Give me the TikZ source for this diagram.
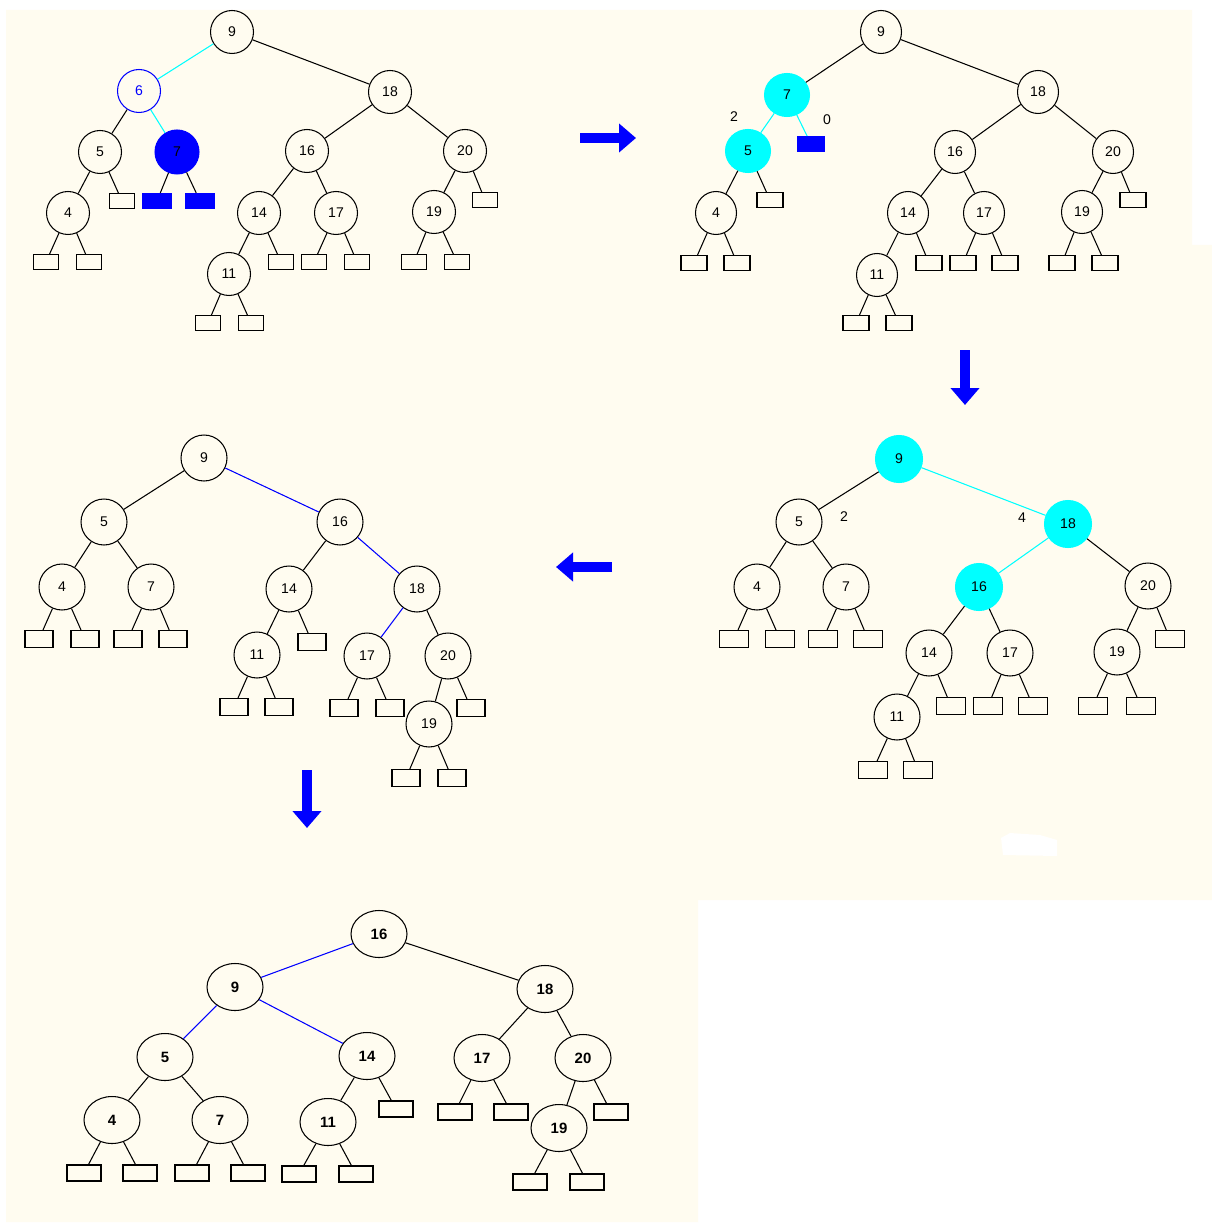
\documentclass[tikz,border=0pt]{standalone}
\usepackage{fontspec}
\setmainfont{Liberation Sans}
\usetikzlibrary{arrows.meta,shapes.geometric}

\definecolor{cream}{RGB}{255,252,240}
\definecolor{hlblue}{RGB}{0,0,255}
\definecolor{hlcyan}{RGB}{0,255,255}

\tikzset{
  key/.style={circle,draw,line width=0.6pt,minimum size=0.86cm,inner sep=0pt,font=\fontsize{8}{9}\selectfont},
  ext/.style={rectangle,draw,line width=0.6pt,minimum width=0.5cm,minimum height=0.3cm,inner sep=0pt},
  num/.style={font=\fontsize{8}{9}\selectfont,inner sep=1pt},
  link/.style={line width=0.6pt},
  bigarrow/.style={hlblue,line width=0.2cm,-{Triangle[length=0.34cm,width=0.56cm]}}
}

\begin{document}
\begin{tikzpicture}[x=0.02cm,y=-0.02cm]
  \useasboundingbox (0,0) rectangle (1212,1226);
  \fill[white] (0,0) rectangle (1212,1226);
  \fill[cream] (6,10) -- (1192,10) -- (1192,245) -- (1212,245) -- (1212,900)
    -- (698,900) -- (698,1222) -- (6,1222) -- cycle;
  \fill[white] (1001,838) -- (1010,833) -- (1040,835) -- (1057,840) -- (1057,856) -- (1003,855) -- cycle;

  % step 1: delete 6
  \begin{scope}
    \node[key] (a9) at (232,32) {9};
    \node[key,hlblue] (a6) at (139,91) {6};
    \node[key] (a18) at (390,92) {18};
    \node[key] (a5) at (100,152) {5};
    \node[key,fill=hlblue,draw=hlblue,minimum size=0.88cm] (a7) at (177,152) {7};
    \node[key] (a16) at (307,151) {16};
    \node[key] (a20) at (465,151) {20};
    \node[key] (a4) at (68,213) {4};
    \node[ext] (a5r) at (122,201) {};
    \node[ext,fill=hlblue,draw=hlblue,minimum width=0.56cm] (a7l) at (157,201) {};
    \node[ext,fill=hlblue,draw=hlblue,minimum width=0.56cm] (a7r) at (200,201) {};
    \node[key] (a14) at (259,213) {14};
    \node[key] (a17) at (336,213) {17};
    \node[key] (a19) at (434,212) {19};
    \node[ext] (a20r) at (485,200) {};
    \node[ext] (a4l) at (46,262) {};
    \node[ext] (a4r) at (89,262) {};
    \node[key] (a11) at (229,274) {11};
    \node[ext] (a14r) at (281,262) {};
    \node[ext] (a17l) at (314,262) {};
    \node[ext] (a17r) at (357,262) {};
    \node[ext] (a19l) at (414,262) {};
    \node[ext] (a19r) at (457,262) {};
    \node[ext] (a11l) at (208,323) {};
    \node[ext] (a11r) at (251,323) {};
    \draw[link,hlcyan] (a9) -- (a6) (a6) -- (a7);
    \draw[link] (a9) -- (a18) (a6) -- (a5) (a5) -- (a4) (a5) -- (a5r)
      (a7) -- (a7l) (a7) -- (a7r) (a18) -- (a16) (a18) -- (a20)
      (a16) -- (a14) (a16) -- (a17) (a20) -- (a19) (a20) -- (a20r)
      (a4) -- (a4l) (a4) -- (a4r) (a14) -- (a11) (a14) -- (a14r)
      (a17) -- (a17l) (a17) -- (a17r) (a19) -- (a19l) (a19) -- (a19r)
      (a11) -- (a11l) (a11) -- (a11r);
  \end{scope}

  \coordinate (r0) at (580,138);
  \coordinate (r1) at (636,138);
  \draw[bigarrow] (r0) -- (r1);

  % step 2: 7 moved up
  \begin{scope}[key/.append style={ellipse,minimum width=0.82cm,minimum height=0.86cm},
      ext/.append style={minimum width=0.52cm}]
    \node[key] (b9) at (881,32) {9};
    \node[key,fill=hlcyan,draw=hlcyan,minimum width=0.9cm] (b7) at (787,95) {7};
    \node[key] (b18) at (1038,92) {18};
    \node[key,fill=hlcyan,draw=hlcyan,minimum width=0.9cm] (b5) at (748,151) {5};
    \node[ext,fill=hlblue,draw=hlblue,minimum width=0.54cm] (b7r) at (811,144) {};
    \node[num] (bh5) at (734,117) {2};
    \node[num] (bh7) at (827,120) {0};
    \node[key] (b16) at (955,152) {16};
    \node[key] (b20) at (1113,152) {20};
    \node[key] (b4) at (716,213) {4};
    \node[ext] (b5r) at (770,200) {};
    \node[key] (b14) at (908,213) {14};
    \node[key] (b17) at (984,213) {17};
    \node[key] (b19) at (1082,212) {19};
    \node[ext] (b20r) at (1133,200) {};
    \node[ext] (b4l) at (694,263) {};
    \node[ext] (b4r) at (737,263) {};
    \node[key] (b11) at (877,275) {11};
    \node[ext] (b14r) at (929,263) {};
    \node[ext] (b17l) at (963,263) {};
    \node[ext] (b17r) at (1005,263) {};
    \node[ext] (b19l) at (1062,263) {};
    \node[ext] (b19r) at (1105,263) {};
    \node[ext] (b11l) at (856,323) {};
    \node[ext] (b11r) at (899,323) {};
    \draw[link,hlcyan] (b7) -- (b5) (b7) -- (b7r);
    \draw[link] (b9) -- (b7) (b9) -- (b18) (b5) -- (b4) (b5) -- (b5r)
      (b18) -- (b16) (b18) -- (b20) (b16) -- (b14) (b16) -- (b17)
      (b20) -- (b19) (b20) -- (b20r) (b4) -- (b4l) (b4) -- (b4r)
      (b14) -- (b11) (b14) -- (b14r) (b17) -- (b17l) (b17) -- (b17r)
      (b19) -- (b19l) (b19) -- (b19r) (b11) -- (b11l) (b11) -- (b11r);
  \end{scope}

  \coordinate (d0) at (965,350);
  \coordinate (d1) at (965,405);
  \draw[bigarrow] (d0) -- (d1);

  % step 3: heights at the root
  \begin{scope}[key/.append style={minimum size=0.92cm},
      ext/.append style={minimum width=0.58cm,minimum height=0.34cm}]
    \node[key,fill=hlcyan,draw=hlcyan,minimum size=0.94cm] (c9) at (899,459) {9};
    \node[key] (c5) at (799,522) {5};
    \node[key,fill=hlcyan,draw=hlcyan,minimum size=0.94cm] (c18) at (1068,524) {18};
    \node[num] (ch5) at (844,517) {2};
    \node[num] (ch18) at (1022,518) {4};
    \node[key] (c4) at (757,587) {4};
    \node[key] (c7) at (846,587) {7};
    \node[key,fill=hlcyan,draw=hlcyan,minimum size=0.94cm] (c16) at (979,587) {16};
    \node[key] (c20) at (1148,586) {20};
    \node[ext] (c4l) at (734,639) {};
    \node[ext] (c4r) at (780,639) {};
    \node[ext] (c7l) at (823,639) {};
    \node[ext] (c7r) at (868,639) {};
    \node[key] (c14) at (929,653) {14};
    \node[key] (c17) at (1010,653) {17};
    \node[key] (c19) at (1117,652) {19};
    \node[ext] (c20r) at (1170,639) {};
    \node[key] (c11) at (897,717) {11};
    \node[ext] (c14r) at (951,706) {};
    \node[ext] (c17l) at (988,706) {};
    \node[ext] (c17r) at (1033,706) {};
    \node[ext] (c19l) at (1093,706) {};
    \node[ext] (c19r) at (1141,706) {};
    \node[ext] (c11l) at (873,770) {};
    \node[ext] (c11r) at (918,770) {};
    \draw[link,hlcyan] (c9) -- (c18) (c18) -- (c16);
    \draw[link] (c9) -- (c5) (c5) -- (c4) (c5) -- (c7) (c18) -- (c20)
      (c16) -- (c14) (c16) -- (c17) (c20) -- (c19) (c20) -- (c20r)
      (c4) -- (c4l) (c4) -- (c4r) (c7) -- (c7l) (c7) -- (c7r)
      (c14) -- (c11) (c14) -- (c14r) (c17) -- (c17l) (c17) -- (c17r)
      (c19) -- (c19l) (c19) -- (c19r) (c11) -- (c11l) (c11) -- (c11r);
  \end{scope}

  \coordinate (l0) at (612,567);
  \coordinate (l1) at (556,567);
  \draw[bigarrow] (l0) -- (l1);

  % step 4: rotation at 18
  \begin{scope}[key/.append style={minimum size=0.92cm},
      ext/.append style={minimum width=0.56cm,minimum height=0.34cm}]
    \node[key] (d9) at (204,458) {9};
    \node[key] (d5) at (104,522) {5};
    \node[key] (d16) at (340,522) {16};
    \node[key] (d4) at (62,587) {4};
    \node[key] (d7) at (151,587) {7};
    \node[key] (d14) at (289,589) {14};
    \node[key] (d18) at (417,589) {18};
    \node[ext] (d4l) at (39,639) {};
    \node[ext] (d4r) at (85,639) {};
    \node[ext] (d7l) at (128,639) {};
    \node[ext] (d7r) at (173,639) {};
    \node[key] (d11) at (257,655) {11};
    \node[ext] (d14r) at (312,642) {};
    \node[key] (d17) at (367,656) {17};
    \node[key] (d20) at (448,656) {20};
    \node[ext] (d11l) at (234,707) {};
    \node[ext] (d11r) at (279,707) {};
    \node[ext] (d17l) at (344,708) {};
    \node[ext] (d17r) at (390,708) {};
    \node[key] (d19) at (429,724) {19};
    \node[ext] (d20r) at (471,708) {};
    \node[ext] (d19l) at (406,778) {};
    \node[ext] (d19r) at (452,778) {};
    \draw[link,hlblue] (d9) -- (d16) (d16) -- (d18) (d18) -- (d17);
    \draw[link] (d9) -- (d5) (d5) -- (d4) (d5) -- (d7) (d16) -- (d14)
      (d18) -- (d20) (d4) -- (d4l) (d4) -- (d4r) (d7) -- (d7l) (d7) -- (d7r)
      (d14) -- (d11) (d14) -- (d14r) (d11) -- (d11l) (d11) -- (d11r)
      (d17) -- (d17l) (d17) -- (d17r) (d20) -- (d19) (d20) -- (d20r)
      (d19) -- (d19l) (d19) -- (d19r);
  \end{scope}

  \coordinate (e0) at (307,770);
  \coordinate (e1) at (307,828);
  \draw[bigarrow] (e0) -- (e1);

  % step 5: rotation at 9
  \begin{scope}[key/.append style={ellipse,minimum width=1.12cm,minimum height=0.94cm,font=\fontsize{8.5}{10}\selectfont\bfseries},
      ext/.append style={minimum width=0.68cm,minimum height=0.32cm}]
    \node[key] (e16) at (379,934) {16};
    \node[key] (e9) at (235,987) {9};
    \node[key] (e18) at (545,989) {18};
    \node[key] (e5) at (165,1057) {5};
    \node[key] (e14) at (367,1056) {14};
    \node[key] (e17) at (482,1058) {17};
    \node[key] (e20) at (583,1058) {20};
    \node[key] (e4) at (112,1120) {4};
    \node[key] (e7) at (220,1120) {7};
    \node[key] (e11) at (328,1122) {11};
    \node[ext] (e14r) at (396,1109) {};
    \node[ext] (e17l) at (455,1112) {};
    \node[ext] (e17r) at (511,1112) {};
    \node[key] (e19) at (559,1128) {19};
    \node[ext] (e20r) at (611,1112) {};
    \node[ext] (e4l) at (84,1173) {};
    \node[ext] (e4r) at (140,1173) {};
    \node[ext] (e7l) at (192,1173) {};
    \node[ext] (e7r) at (248,1173) {};
    \node[ext] (e11l) at (299,1174) {};
    \node[ext] (e11r) at (356,1174) {};
    \node[ext] (e19l) at (530,1182) {};
    \node[ext] (e19r) at (587,1182) {};
    \draw[link,hlblue] (e16) -- (e9) (e9) -- (e5) (e9) -- (e14);
    \draw[link] (e16) -- (e18) (e18) -- (e17) (e18) -- (e20)
      (e5) -- (e4) (e5) -- (e7) (e14) -- (e11) (e14) -- (e14r)
      (e17) -- (e17l) (e17) -- (e17r) (e20) -- (e19) (e20) -- (e20r)
      (e4) -- (e4l) (e4) -- (e4r) (e7) -- (e7l) (e7) -- (e7r)
      (e11) -- (e11l) (e11) -- (e11r) (e19) -- (e19l) (e19) -- (e19r);
  \end{scope}
\end{tikzpicture}
\end{document}
